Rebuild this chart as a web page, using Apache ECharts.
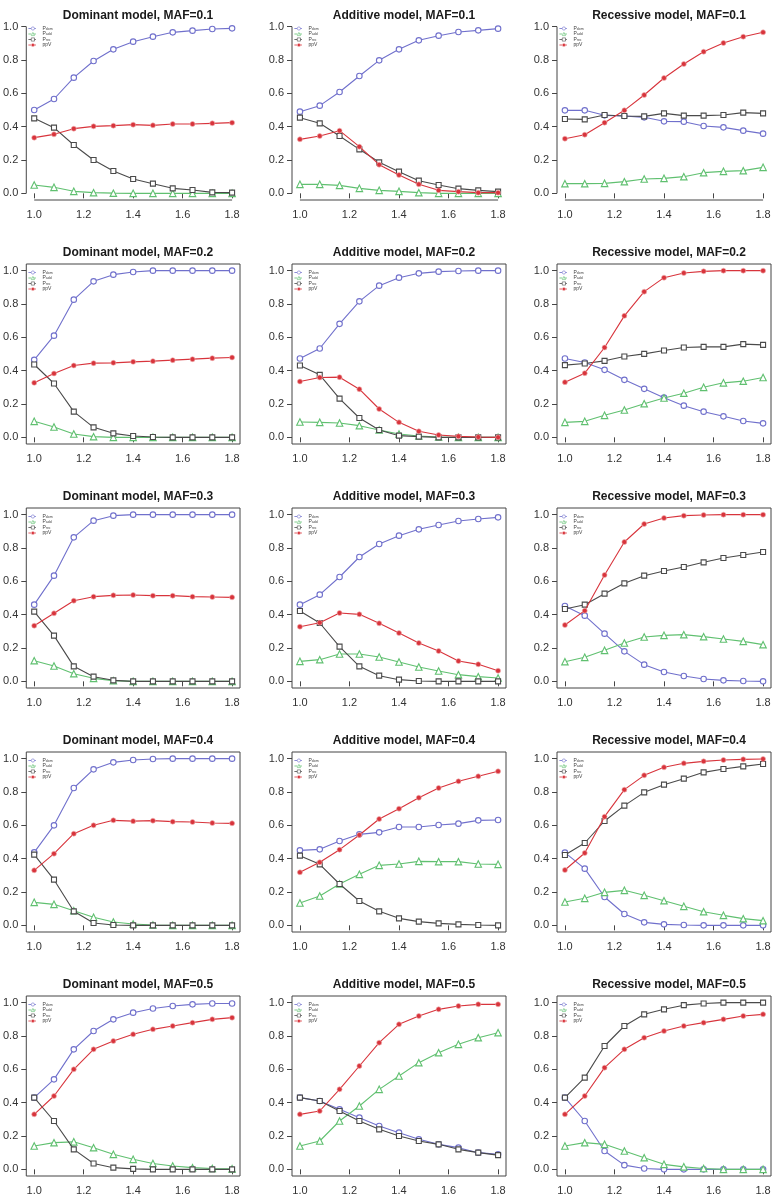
<!DOCTYPE html>
<html>
<head>
<meta charset="utf-8">
<script src="https://cdn.jsdelivr.net/npm/echarts@6/dist/echarts.min.js"></script>
<style>
html,body{margin:0;padding:0;background:#fff;}
#chart{width:775px;height:1200px;}
</style>
</head>
<body>
<div id="chart"></div>
<script>
// ---------- data ----------
const xs = [1.0, 1.08, 1.16, 1.24, 1.32, 1.40, 1.48, 1.56, 1.64, 1.72, 1.80];
const xTicks = [1.0, 1.2, 1.4, 1.6, 1.8];
const yTicks = [0, 0.2, 0.4, 0.6, 0.8, 1.0];
const seriesNames = ['Pdom', 'Padd', 'Prec', 'ppV'];
const titles = [
  'Dominant model, MAF=0.1', 'Additive model, MAF=0.1', 'Recessive model, MAF=0.1',
  'Dominant model, MAF=0.2', 'Additive model, MAF=0.2', 'Recessive model, MAF=0.2',
  'Dominant model, MAF=0.3', 'Additive model, MAF=0.3', 'Recessive model, MAF=0.3',
  'Dominant model, MAF=0.4', 'Additive model, MAF=0.4', 'Recessive model, MAF=0.4',
  'Dominant model, MAF=0.5', 'Additive model, MAF=0.5', 'Recessive model, MAF=0.5'
];

// MAF = 0.1
const dom1_Pdom = [0.50, 0.566, 0.694, 0.794, 0.864, 0.91, 0.94, 0.966, 0.976, 0.986, 0.99];
const dom1_Padd = [0.05, 0.036, 0.012, 0.004, 0.001, 0, 0, 0, 0, 0, 0];
const dom1_Prec = [0.45, 0.394, 0.29, 0.20, 0.134, 0.086, 0.058, 0.03, 0.02, 0.006, 0.004];
const dom1_ppV  = [0.334, 0.354, 0.388, 0.402, 0.406, 0.412, 0.408, 0.416, 0.416, 0.42, 0.424];

const add1_Pdom = [0.49, 0.526, 0.608, 0.704, 0.798, 0.864, 0.918, 0.946, 0.968, 0.978, 0.988];
const add1_Padd = [0.054, 0.054, 0.048, 0.03, 0.018, 0.012, 0.004, 0.0, 0, 0, 0];
const add1_Prec = [0.454, 0.42, 0.344, 0.264, 0.186, 0.13, 0.076, 0.05, 0.028, 0.018, 0.01];
const add1_ppV  = [0.324, 0.344, 0.376, 0.28, 0.172, 0.11, 0.054, 0.018, 0.01, 0.004, 0.004];

const rec1_Pdom = [0.498, 0.498, 0.468, 0.464, 0.456, 0.432, 0.43, 0.404, 0.396, 0.376, 0.358];
const rec1_Padd = [0.058, 0.058, 0.06, 0.07, 0.086, 0.09, 0.1, 0.124, 0.132, 0.136, 0.156];
const rec1_Prec = [0.446, 0.444, 0.47, 0.464, 0.462, 0.48, 0.466, 0.466, 0.47, 0.484, 0.48];
const rec1_ppV  = [0.328, 0.352, 0.424, 0.498, 0.59, 0.692, 0.776, 0.85, 0.902, 0.94, 0.966];

// MAF = 0.2
const dom2_Pdom = [0.465, 0.61, 0.826, 0.936, 0.976, 0.992, 1, 1, 1, 1, 1];
const dom2_Padd = [0.096, 0.062, 0.02, 0.004, 0, 0, 0, 0, 0, 0, 0];
const dom2_Prec = [0.437, 0.323, 0.154, 0.06, 0.024, 0.008, 0.002, 0, 0, 0, 0];
const dom2_ppV  = [0.327, 0.383, 0.431, 0.445, 0.447, 0.453, 0.457, 0.463, 0.469, 0.475, 0.479];

const add2_Pdom = [0.473, 0.533, 0.681, 0.816, 0.91, 0.958, 0.984, 0.994, 0.998, 1, 1];
const add2_Padd = [0.092, 0.09, 0.086, 0.07, 0.044, 0.02, 0.008, 0.002, 0, 0, 0];
const add2_Prec = [0.431, 0.375, 0.232, 0.116, 0.044, 0.01, 0.004, 0, 0, 0, 0];
const add2_ppV  = [0.335, 0.359, 0.361, 0.289, 0.17, 0.09, 0.036, 0.014, 0.006, 0.002, 0];

const rec2_Pdom = [0.473, 0.449, 0.405, 0.345, 0.291, 0.238, 0.19, 0.154, 0.126, 0.098, 0.084];
const rec2_Padd = [0.09, 0.096, 0.132, 0.164, 0.202, 0.236, 0.265, 0.3, 0.327, 0.337, 0.359];
const rec2_Prec = [0.433, 0.443, 0.459, 0.485, 0.501, 0.521, 0.539, 0.543, 0.543, 0.559, 0.555];
const rec2_ppV  = [0.331, 0.385, 0.539, 0.729, 0.874, 0.958, 0.986, 0.996, 1, 1, 1];

// MAF = 0.3
const dom3_Pdom = [0.46, 0.634, 0.864, 0.964, 0.994, 1, 1, 1, 1, 1, 1];
const dom3_Padd = [0.124, 0.092, 0.046, 0.018, 0.004, 0, 0, 0, 0, 0, 0];
const dom3_Prec = [0.418, 0.274, 0.09, 0.028, 0.006, 0, 0, 0, 0, 0, 0];
const dom3_ppV  = [0.334, 0.408, 0.484, 0.508, 0.516, 0.518, 0.514, 0.514, 0.508, 0.506, 0.504];

const add3_Pdom = [0.46, 0.52, 0.626, 0.746, 0.824, 0.874, 0.912, 0.938, 0.962, 0.974, 0.984];
const add3_Padd = [0.12, 0.13, 0.164, 0.164, 0.146, 0.116, 0.086, 0.062, 0.04, 0.028, 0.02];
const add3_Prec = [0.422, 0.35, 0.208, 0.09, 0.034, 0.01, 0.002, 0, 0, 0, 0];
const add3_ppV  = [0.328, 0.352, 0.41, 0.402, 0.348, 0.29, 0.23, 0.182, 0.122, 0.102, 0.064];

const rec3_Pdom = [0.452, 0.394, 0.286, 0.18, 0.1, 0.056, 0.032, 0.014, 0.006, 0.002, 0];
const rec3_Padd = [0.118, 0.144, 0.186, 0.23, 0.266, 0.276, 0.28, 0.268, 0.254, 0.24, 0.22];
const rec3_Prec = [0.434, 0.46, 0.526, 0.588, 0.634, 0.662, 0.686, 0.714, 0.74, 0.758, 0.776];
const rec3_ppV  = [0.338, 0.424, 0.638, 0.836, 0.944, 0.98, 0.994, 0.998, 1, 1, 1];

// MAF = 0.4
const dom4_Pdom = [0.438, 0.6, 0.824, 0.936, 0.978, 0.992, 0.998, 1, 1, 1, 1];
const dom4_Padd = [0.138, 0.126, 0.088, 0.048, 0.02, 0.008, 0.002, 0, 0, 0, 0];
const dom4_Prec = [0.424, 0.274, 0.084, 0.014, 0.002, 0, 0, 0, 0, 0, 0];
const dom4_ppV  = [0.33, 0.43, 0.55, 0.60, 0.63, 0.625, 0.628, 0.622, 0.62, 0.614, 0.612];

const add4_Pdom = [0.45, 0.456, 0.506, 0.546, 0.558, 0.59, 0.59, 0.602, 0.61, 0.63, 0.632];
const add4_Padd = [0.134, 0.176, 0.248, 0.306, 0.36, 0.368, 0.384, 0.382, 0.382, 0.368, 0.366];
const add4_Prec = [0.418, 0.366, 0.248, 0.146, 0.084, 0.042, 0.022, 0.012, 0.006, 0.002, 0];
const add4_ppV  = [0.318, 0.378, 0.454, 0.542, 0.638, 0.70, 0.766, 0.824, 0.864, 0.894, 0.924];

const rec4_Pdom = [0.436, 0.34, 0.17, 0.068, 0.018, 0.006, 0.002, 0, 0, 0, 0];
const rec4_Padd = [0.14, 0.162, 0.198, 0.21, 0.18, 0.148, 0.114, 0.082, 0.06, 0.04, 0.028];
const rec4_Prec = [0.422, 0.494, 0.626, 0.718, 0.798, 0.844, 0.88, 0.918, 0.938, 0.954, 0.968];
const rec4_ppV  = [0.332, 0.434, 0.652, 0.814, 0.9, 0.948, 0.972, 0.984, 0.992, 0.996, 0.998];

// MAF = 0.5
const dom5_Pdom = [0.43, 0.54, 0.72, 0.83, 0.90, 0.94, 0.965, 0.98, 0.99, 0.995, 0.995];
const dom5_Padd = [0.14, 0.16, 0.165, 0.13, 0.09, 0.06, 0.035, 0.02, 0.01, 0.005, 0.003];
const dom5_Prec = [0.43, 0.29, 0.12, 0.035, 0.01, 0.003, 0, 0, 0, 0, 0];
const dom5_ppV  = [0.33, 0.44, 0.60, 0.72, 0.77, 0.81, 0.84, 0.86, 0.88, 0.90, 0.91];

const add5_Pdom = [0.43, 0.41, 0.36, 0.31, 0.26, 0.22, 0.18, 0.15, 0.13, 0.10, 0.09];
const add5_Padd = [0.14, 0.17, 0.29, 0.38, 0.48, 0.56, 0.64, 0.70, 0.75, 0.79, 0.82];
const add5_Prec = [0.43, 0.41, 0.35, 0.29, 0.24, 0.20, 0.17, 0.15, 0.12, 0.10, 0.085];
const add5_ppV  = [0.33, 0.35, 0.48, 0.62, 0.76, 0.87, 0.92, 0.96, 0.98, 0.99, 0.99];

const rec5_Pdom = [0.43, 0.29, 0.11, 0.025, 0.005, 0, 0, 0, 0, 0, 0];
const rec5_Padd = [0.14, 0.16, 0.15, 0.11, 0.07, 0.03, 0.015, 0.005, 0, 0, 0];
const rec5_Prec = [0.43, 0.55, 0.74, 0.86, 0.93, 0.96, 0.985, 0.995, 1, 1, 1];
const rec5_ppV  = [0.33, 0.44, 0.61, 0.72, 0.79, 0.83, 0.86, 0.88, 0.90, 0.92, 0.93];

const panelData = [
  [dom1_Pdom, dom1_Padd, dom1_Prec, dom1_ppV], [add1_Pdom, add1_Padd, add1_Prec, add1_ppV], [rec1_Pdom, rec1_Padd, rec1_Prec, rec1_ppV],
  [dom2_Pdom, dom2_Padd, dom2_Prec, dom2_ppV], [add2_Pdom, add2_Padd, add2_Prec, add2_ppV], [rec2_Pdom, rec2_Padd, rec2_Prec, rec2_ppV],
  [dom3_Pdom, dom3_Padd, dom3_Prec, dom3_ppV], [add3_Pdom, add3_Padd, add3_Prec, add3_ppV], [rec3_Pdom, rec3_Padd, rec3_Prec, rec3_ppV],
  [dom4_Pdom, dom4_Padd, dom4_Prec, dom4_ppV], [add4_Pdom, add4_Padd, add4_Prec, add4_ppV], [rec4_Pdom, rec4_Padd, rec4_Prec, rec4_ppV],
  [dom5_Pdom, dom5_Padd, dom5_Prec, dom5_ppV], [add5_Pdom, add5_Padd, add5_Prec, add5_ppV], [rec5_Pdom, rec5_Padd, rec5_Prec, rec5_ppV]
];

// ---------- layout & style ----------
const FONT = "'Liberation Sans', Arial, Helvetica, sans-serif";
const colLeft = [26, 292, 557];
const boxW = 214;
const rowTop = [20, 264, 508, 752, 996];
const boxH = 180;
const titleCenterY = [12, 249, 493, 737, 981];
const X_MIN = 0.968, X_MAX = 1.832, Y_MIN = -0.04, Y_MAX = 1.04;

const colors = { Pdom: '#7070cc', Padd: '#60c070', Prec: '#4a4a4a', ppV: '#d8343c' };
const symbols = { Pdom: 'circle', Padd: 'triangle', Prec: 'rect', ppV: 'circle' };
const symSizes = { Pdom: 5.5, Padd: 6.5, Prec: 5, ppV: 5 };
const fills = { Pdom: '#ffffff', Padd: '#ffffff', Prec: '#ffffff', ppV: '#d8343c' };
const subs = { Pdom: 'dom', Padd: 'add', Prec: 'rec' };

const grids = [], xAxes = [], yAxes = [], series = [], legends = [], titleOpts = [];
for (let i = 0; i < 15; i++) {
  const r = Math.floor(i / 3), c = i % 3;
  const framed = r > 0;
  grids.push({
    left: colLeft[c], top: rowTop[r], width: boxW, height: boxH,
    show: framed, borderColor: '#454545', borderWidth: 1, backgroundColor: 'transparent'
  });
  xAxes.push({
    type: 'value', gridIndex: i, min: X_MIN, max: X_MAX,
    axisLine: { show: false },
    splitLine: { show: false },
    axisTick: { show: true, length: 5, inside: false, customValues: xTicks, lineStyle: { color: '#454545' } },
    axisLabel: { show: true, customValues: xTicks, margin: 9, fontSize: 11, color: '#333', fontFamily: FONT,
      formatter: v => v.toFixed(1) }
  });
  yAxes.push({
    type: 'value', gridIndex: i, min: Y_MIN, max: Y_MAX,
    axisLine: { show: false },
    splitLine: { show: false },
    axisTick: { show: true, length: 5, inside: false, customValues: yTicks, lineStyle: { color: '#454545' } },
    axisLabel: { show: true, customValues: yTicks, margin: 8, fontSize: 11, color: '#333', fontFamily: FONT,
      formatter: v => v.toFixed(1) }
  });
  titleOpts.push({
    text: titles[i], left: colLeft[c] + boxW / 2, top: titleCenterY[r] - 7, textAlign: 'center',
    textStyle: { fontSize: 12, fontWeight: 'bold', color: '#1a1a1a', fontFamily: FONT }
  });
  seriesNames.forEach((nm, k) => {
    series.push({
      name: nm, type: 'line', xAxisIndex: i, yAxisIndex: i,
      data: xs.map((x, j) => [x, panelData[i][k][j]]),
      symbol: symbols[nm], symbolSize: symSizes[nm], showSymbol: true,
      lineStyle: { color: colors[nm], width: 1.1 },
      itemStyle: { color: fills[nm], borderColor: nm === 'ppV' ? '#f2b8b8' : colors[nm], borderWidth: nm === 'ppV' ? 0.6 : 1.1 },
      z: 2 + k, animation: false, silent: true
    });
  });
  legends.push({
    data: seriesNames, orient: 'vertical', left: colLeft[c] + 2, top: rowTop[r] + 6,
    itemWidth: 9, itemHeight: 4, itemGap: 0.5, padding: 0, selectedMode: false,
    lineStyle: { width: 0.8, type: [3, 1.5] },
    itemStyle: { borderWidth: 0.6 },
    textStyle: { fontSize: 5, lineHeight: 5, color: '#444', fontFamily: FONT,
      rich: { s: { fontSize: 3.5, lineHeight: 5, verticalAlign: 'bottom', color: '#444', fontFamily: FONT } } },
    formatter: n => subs[n] ? 'P{s|' + subs[n] + '}' : n
  });
}

const chart = echarts.init(document.getElementById('chart'), null, { renderer: 'canvas' });
chart.setOption({
  backgroundColor: '#ffffff',
  animation: false,
  title: titleOpts,
  grid: grids,
  xAxis: xAxes,
  yAxis: yAxes,
  legend: legends,
  series: series
});

// First row has R-style open axes (line from first to last tick), no box.
const g = [];
for (let c = 0; c < 3; c++) {
  const a = chart.convertToPixel({ gridIndex: c }, [xTicks[0], Y_MIN]);
  const b = chart.convertToPixel({ gridIndex: c }, [xTicks[xTicks.length - 1], Y_MIN]);
  const p = chart.convertToPixel({ gridIndex: c }, [X_MIN, yTicks[0]]);
  const q = chart.convertToPixel({ gridIndex: c }, [X_MIN, yTicks[yTicks.length - 1]]);
  g.push({ type: 'line', shape: { x1: a[0], y1: a[1], x2: b[0], y2: b[1] }, style: { stroke: '#454545', lineWidth: 1 } });
  g.push({ type: 'line', shape: { x1: p[0], y1: p[1], x2: q[0], y2: q[1] }, style: { stroke: '#454545', lineWidth: 1 } });
}
chart.setOption({ graphic: g });
</script>
</body>
</html>
